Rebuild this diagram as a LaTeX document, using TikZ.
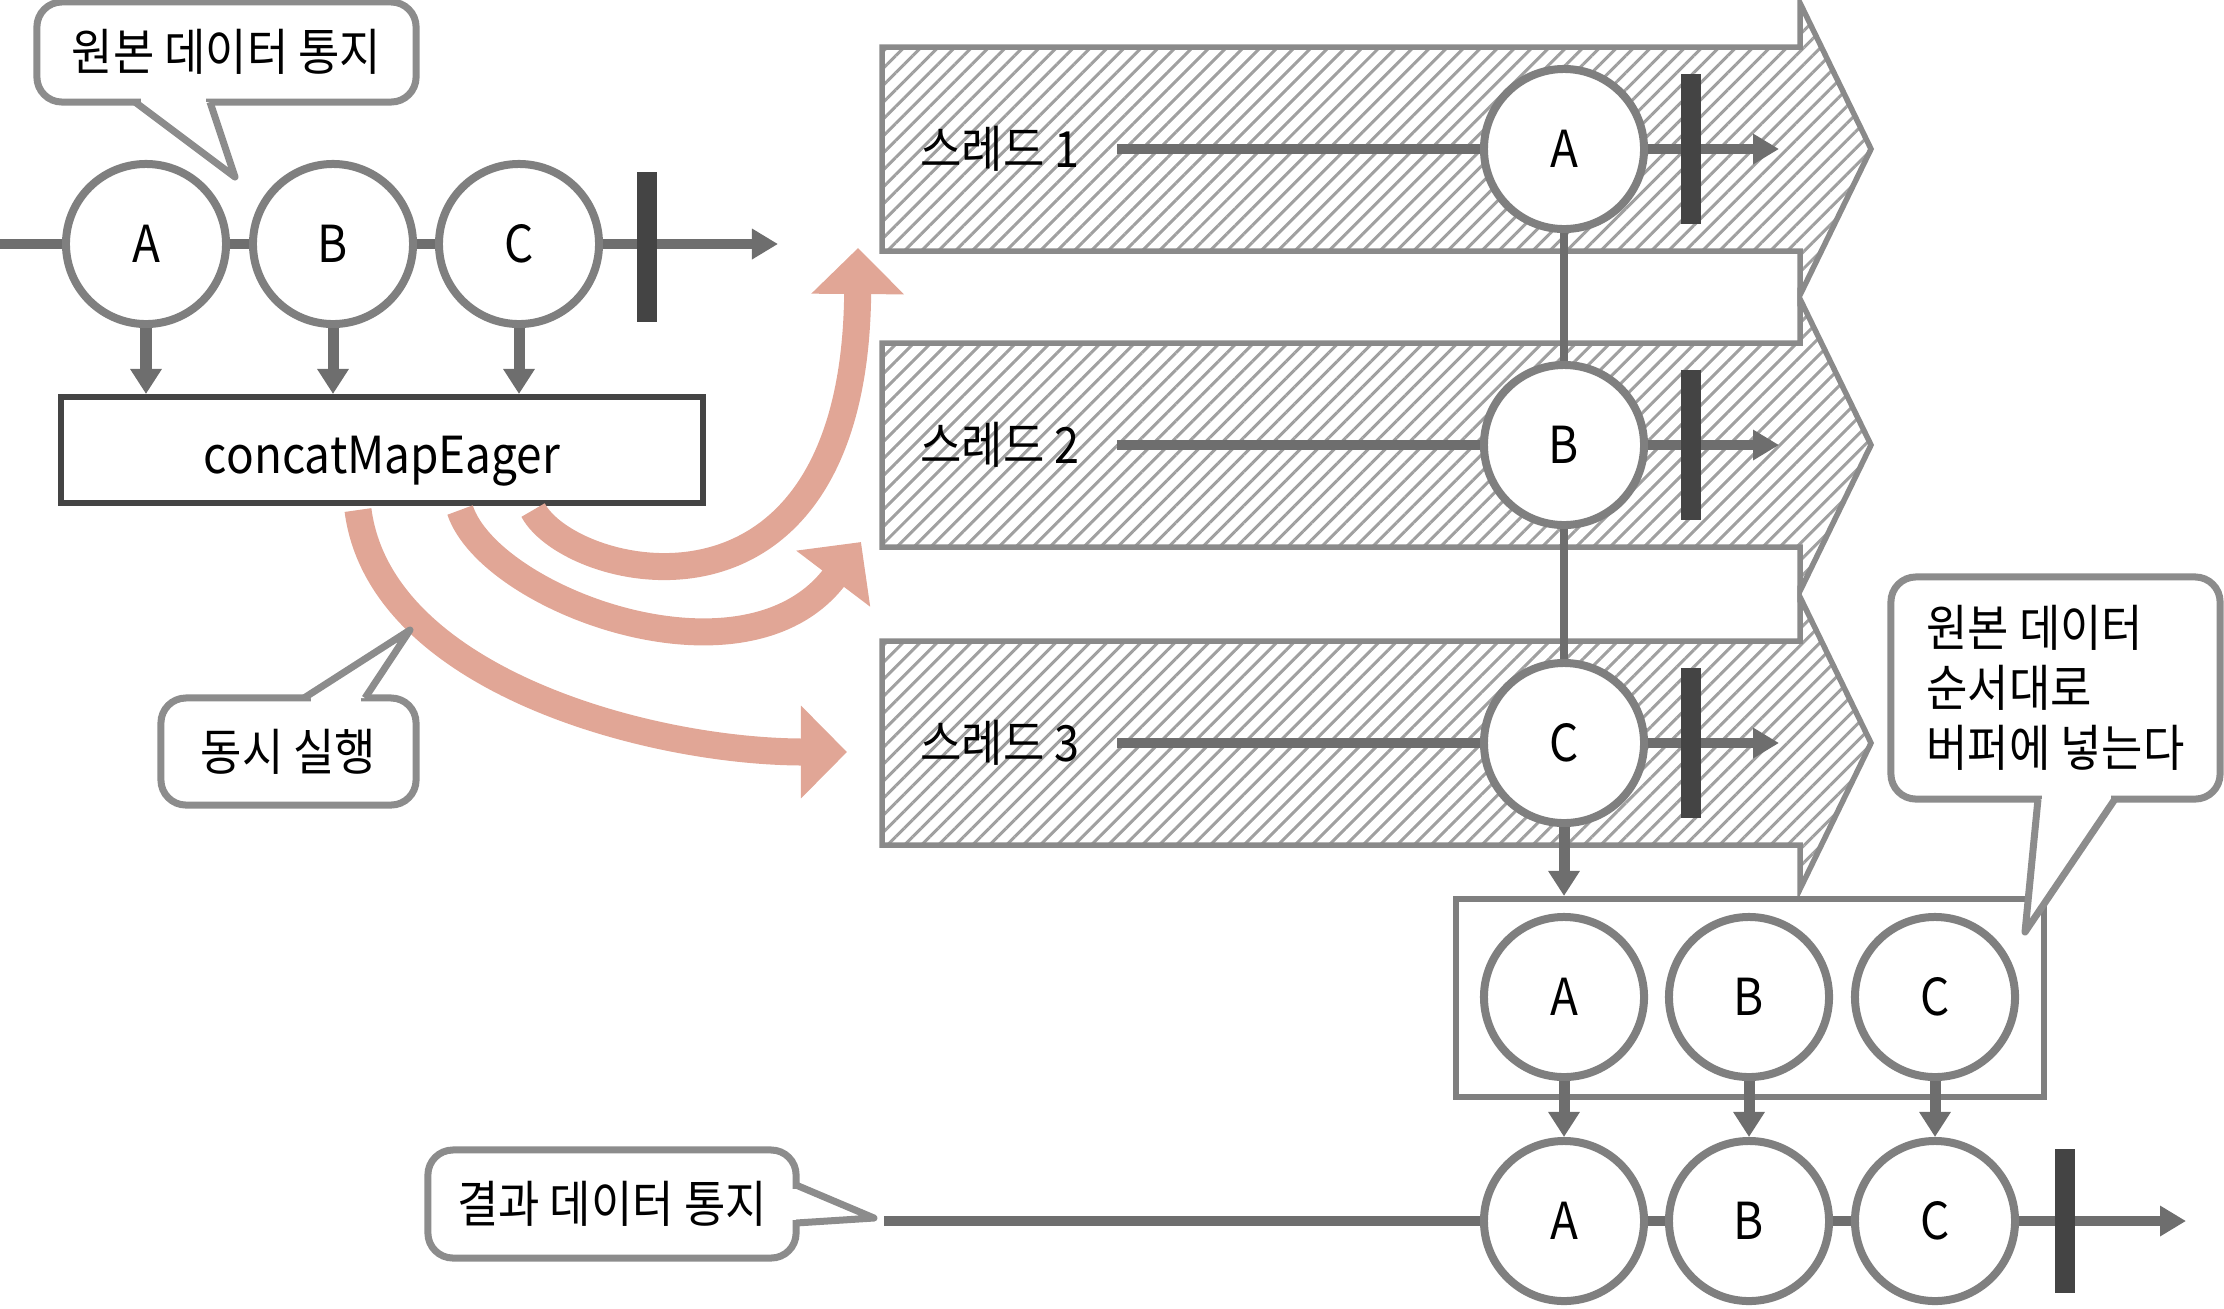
\documentclass[tikz,border=0pt]{standalone}
\usepackage{fontspec}
\setmainfont{Noto Sans CJK KR}[FakeStretch=0.9]
\usetikzlibrary{arrows.meta,patterns.meta}

\definecolor{linegray}{HTML}{6E6E6E}
\definecolor{ringgray}{HTML}{7F7F7F}
\definecolor{bargray}{HTML}{444444}
\definecolor{bandgray}{HTML}{8A8A8A}
\definecolor{hatchgray}{HTML}{A0A0A0}
\definecolor{notegray}{HTML}{8C8C8C}
\definecolor{salmon}{RGB}{225,166,150}

\tikzset{
  txt/.style={font=\fontsize{14.2pt}{17pt}\selectfont},
  marble/.style={circle, draw=ringgray, line width=0.8mm, fill=white, minimum size=1.6cm, inner sep=0pt, font=\fontsize{14.5pt}{16pt}\selectfont},
  flow/.style={draw=linegray, line width=1mm},
  flowend/.style={flow, -{Triangle[width=2.9mm,length=2.6mm]}},
  endbar/.style={draw=bargray, line width=2mm},
  feed/.style={draw=linegray, line width=1.1mm, -{Triangle[width=3mm,length=2.5mm]}},
  link/.style={draw=linegray, line width=0.8mm},
  band/.style={draw=bandgray, line width=0.55mm, pattern={Lines[angle=45,distance=1.2mm,line width=0.3mm]}, pattern color=hatchgray},
  spawn/.style={color=salmon, line width=2.7mm, -{Triangle[width=9mm,length=4.6mm]}},
  opbox/.style={draw=bargray, line width=0.6mm, fill=white, minimum width=6.41cm, minimum height=1.06cm, text height=5.8mm, text depth=1.2mm, font=\fontsize{14.5pt}{16pt}\selectfont},
  bufbox/.style={draw=ringgray, line width=0.6mm, minimum width=5.87cm, minimum height=1.98cm},
  note/.style={draw=notegray, line width=0.7mm, fill=white, rounded corners=2.5mm, txt, inner sep=0pt},
  notetail/.style={draw=notegray, line width=0.7mm, line join=round},
  tailcut/.style={draw=white, line width=1mm},
}

\begin{document}
\begin{tikzpicture}[x=0.01cm, y=-0.01cm]
  \useasboundingbox (0,0) rectangle (2224,1308);

  % threads
  \foreach \n/\y/\l in {1/149/A, 2/445/B, 3/743/C} {
    \draw[band] (882,\y-102) -- (1800,\y-102) -- (1800,\y-146) -- (1871,\y)
      -- (1800,\y+146) -- (1800,\y+102) -- (882,\y+102) -- cycle;
    \node[txt, anchor=west] (label\n) at (908,\y) {스레드 \n};
    \node[marble] (t\l) at (1564,\y) {\l};
    \coordinate (start\n) at (1117,\y);
    \coordinate (end\n) at (1779,\y);
    \draw[flow] (start\n) -- (t\l);
    \draw[flowend] (t\l) -- (end\n);
    \draw[endbar] (1691,\y-75) -- (1691,\y+75);
  }
  \draw[link] (tA) -- (tB);
  \draw[link] (tB) -- (tC);

  % source
  \node[marble] (srcA) at (146,244) {A};
  \node[marble] (srcB) at (333,244) {B};
  \node[marble] (srcC) at (519,244) {C};
  \coordinate (srcIn) at (0,244);
  \coordinate (srcOut) at (778,244);
  \draw[flow] (srcIn) -- (srcA);
  \draw[flow] (srcA) -- (srcB);
  \draw[flow] (srcB) -- (srcC);
  \draw[flowend] (srcC) -- (srcOut);
  \draw[endbar] (647,172) -- (647,322);

  \node[opbox] (op) at (382,450) {concatMapEager};
  \foreach \l in {A,B,C}
    \draw[feed] (src\l) -- (src\l |- op.north);

  % concurrent start
  \coordinate (fan1) at (858,248);
  \coordinate (fan2) at (861,542);
  \coordinate (fan3) at (847,752);
  \draw[spawn] ([xshift=1.51cm,yshift=-0.4mm]op.south) .. controls (570,580) and (855,650) .. (fan1);
  \draw[spawn] ([xshift=0.78cm,yshift=-0.4mm]op.south) .. controls (490,600) and (745,695) .. (fan2);
  \draw[spawn] ([xshift=-0.24cm,yshift=-0.4mm]op.south) .. controls (380,680) and (650,752) .. (fan3);

  % buffer and result
  \node[bufbox] (buf) at (1750,998) {};
  \draw[feed] (tC) -- (tC |- buf.north);
  \foreach \l/\x in {A/1564, B/1749, C/1935} {
    \node[marble] (b\l) at (\x,997) {\l};
    \node[marble] (o\l) at (\x,1221) {\l};
    \draw[feed] (b\l) -- (o\l);
  }
  \coordinate (outIn) at (884,1221);
  \coordinate (outOut) at (2186,1221);
  \draw[flow] (outIn) -- (oA);
  \draw[flow] (oA) -- (oB);
  \draw[flow] (oB) -- (oC);
  \draw[flowend] (oC) -- (outOut);
  \draw[endbar] (2065,1149) -- (2065,1293);

  % notes
  \node[note, minimum width=3.79cm, minimum height=1cm] (srcNote) at (226.5,52) {원본 데이터 통지};
  \coordinate (srcNoteTip) at (235,177);
  \fill[white] (135,102) -- (srcNoteTip) -- (210,102) -- cycle;
  \draw[tailcut] (141,102) -- (206,102);
  \draw[notetail] (135,102) -- (srcNoteTip) -- (210,102);

  \node[note, minimum width=2.55cm, minimum height=1.07cm] (fanNote) at (288.5,751.5) {동시 실행};
  \coordinate (fanNoteTip) at (410,630);
  \fill[white] (304,698) -- (fanNoteTip) -- (365,698) -- cycle;
  \draw[tailcut] (311,698) -- (361,698);
  \draw[notetail] (304,698) -- (fanNoteTip) -- (365,698);

  \node[note, align=left, minimum width=3.29cm, minimum height=2.22cm] (bufNote) at (2055.5,688) {원본 데이터\\순서대로\\버퍼에 넣는다};
  \coordinate (bufNoteTip) at (2025,932);
  \fill[white] (2038,799) -- (bufNoteTip) -- (2115,799) -- cycle;
  \draw[tailcut] (2042,799) -- (2111,799);
  \draw[notetail] (2038,799) -- (bufNoteTip) -- (2115,799);

  \node[note, minimum width=3.68cm, minimum height=1.08cm] (outNote) at (612,1204) {결과 데이터 통지};
  \coordinate (outNoteTip) at (874,1218);
  \fill[white] (796,1185) -- (outNoteTip) -- (796,1223) -- cycle;
  \draw[tailcut] (796,1189) -- (796,1220);
  \draw[notetail] (796,1185) -- (outNoteTip) -- (796,1223);
\end{tikzpicture}
\end{document}
